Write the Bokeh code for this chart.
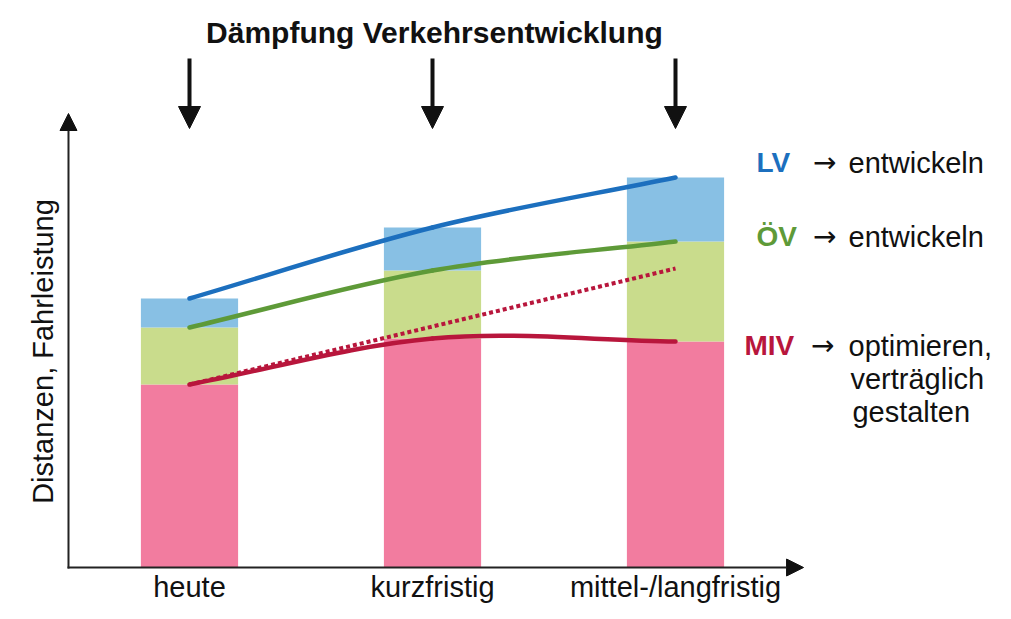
import numpy as np
from bokeh.plotting import figure
from bokeh.models import Range1d, Arrow, NormalHead
from bokeh.core.properties import value
from bokeh.embed import file_html
from bokeh.resources import INLINE

# ---- data ----
categories = ["heute", "kurzfristig", "mittel-/langfristig"]
x_pos = [0, 1, 2]
miv = [183, 229, 226]      # motorisierter Individualverkehr
oev = [57, 68, 100]        # öffentlicher Verkehr
lv = [29, 43, 64]          # Langsamverkehr
miv_trend_x = [0, 2]
miv_trend = [183, 299]     # ungedämpfte MIV-Entwicklung (gepunktet)

# ---- colours ----
BAR_MIV, BAR_OEV, BAR_LV = "#F27C9F", "#C9DC8C", "#88C0E4"
LINE_MIV, LINE_OEV, LINE_LV = "#B8163C", "#5E9A38", "#1C6FBE"
FONT = value("Liberation Sans")

p = figure(width=995, height=603, x_range=Range1d(-0.7778, 3.3169), y_range=Range1d(-36, 567),
           output_backend="svg", toolbar_location=None, min_border=0,
           x_axis_location=None, y_axis_location=None)
p.grid.visible = False
p.outline_line_color = None

miv_a = np.array(miv, float)
oev_top = miv_a + np.array(oev, float)
lv_top = oev_top + np.array(lv, float)

p.vbar(x=x_pos, width=0.4, bottom=0, top=miv_a, fill_color=BAR_MIV, line_color=None)
p.vbar(x=x_pos, width=0.4, bottom=miv_a, top=oev_top, fill_color=BAR_OEV, line_color=None)
p.vbar(x=x_pos, width=0.4, bottom=oev_top, top=lv_top, fill_color=BAR_LV, line_color=None)


def smooth(xs, ys, color):
    xs = np.array(xs, float)
    ys = np.array(ys, float)
    n = len(xs)
    tx = np.zeros(n)
    ty = np.zeros(n)
    for i in range(n):
        a = max(i - 1, 0)
        b = min(i + 1, n - 1)
        tx[i] = (xs[b] - xs[a]) / (b - a)
        ty[i] = (ys[b] - ys[a]) / (b - a)
    p.bezier(x0=xs[:-1], y0=ys[:-1], x1=xs[1:], y1=ys[1:],
             cx0=xs[:-1] + tx[:-1] / 3, cy0=ys[:-1] + ty[:-1] / 3,
             cx1=xs[1:] - tx[1:] / 3, cy1=ys[1:] - ty[1:] / 3,
             line_color=color, line_width=4.5, line_cap="round")


p.line(miv_trend_x, miv_trend, line_color=LINE_MIV, line_width=4, line_dash="4 3")
smooth(x_pos, lv_top, LINE_LV)
smooth(x_pos, oev_top, LINE_OEV)
smooth(x_pos, miv_a, LINE_MIV)

# ---- axes as arrows ----
ax0 = -0.498
p.add_layout(Arrow(x_start=ax0, y_start=-1, x_end=ax0, y_end=454, line_width=2, line_color="#222222",
                   end=NormalHead(size=17, fill_color="#111111", line_color="#111111", line_width=1)))
p.add_layout(Arrow(x_start=ax0 - 0.004, y_start=0, x_end=2.527, y_end=0, line_width=2, line_color="#222222",
                   end=NormalHead(size=17, fill_color="#111111", line_color="#111111", line_width=1)))

# ---- damping arrows ----
for xc in x_pos:
    p.add_layout(Arrow(x_start=xc, y_start=509, x_end=xc, y_end=439, line_width=4, line_color="#111111",
                       end=NormalHead(size=22, fill_color="#111111", line_color="#111111", line_width=1)))

p.text(x=[1.008], y=[535], text=["Dämpfung Verkehrsentwicklung"], text_font=FONT,
       text_font_size="30px", text_font_style="bold", text_align="center",
       text_baseline="alphabetic", text_color="#111111")

# ---- category labels ----
p.text(x=x_pos, y=[-19] * 3, text=categories, text_font=FONT, text_font_size="29px",
       text_align="center", text_baseline="alphabetic", text_color="#111111")

# ---- y label ----
p.text(x=[-0.603], y=[216], text=["Distanzen, Fahrleistung"], angle=np.pi / 2, text_font=FONT,
       text_font_size="29px", text_align="center", text_baseline="alphabetic", text_color="#111111")

# ---- right-side annotations ----
p.text(x=[2.333, 2.333, 2.284], y=[405, 331, 222], text=["LV", "ÖV", "MIV"], text_font=FONT,
       text_font_size="28px", text_font_style="bold", text_color=[LINE_LV, LINE_OEV, LINE_MIV],
       text_baseline="alphabetic")
p.text(x=[2.566, 2.566, 2.558], y=[405, 331, 222], text=["→", "→", "→"], text_font=value("DejaVu Sans"),
       text_font_size="28px", text_color="#111111", text_baseline="alphabetic")
p.text(x=[2.712, 2.712, 2.712, 2.720, 2.728], y=[405, 331, 222, 189, 156],
       text=["entwickeln", "entwickeln", "optimieren,", "verträglich", "gestalten"],
       text_font=FONT, text_font_size="29px", text_color="#111111", text_baseline="alphabetic")

open("out.html", "w").write(file_html(p, INLINE))
